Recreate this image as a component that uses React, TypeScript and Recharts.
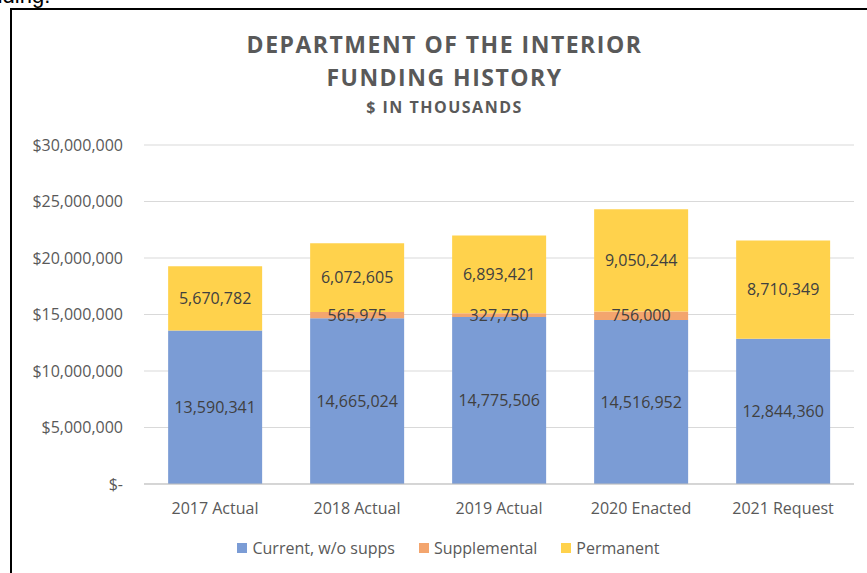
import React from 'react';
import { BarChart, Bar, XAxis, YAxis, CartesianGrid, Legend, LabelList } from 'recharts';

const categories = ['2017 Actual', '2018 Actual', '2019 Actual', '2020 Enacted', '2021 Request'];
const current = [13590341, 14665024, 14775506, 14516952, 12844360];
const supplemental = [0, 565975, 327750, 756000, 0];
const permanent = [5670782, 6072605, 6893421, 9050244, 8710349];
const yTicks = [0, 5000000, 10000000, 15000000, 20000000, 25000000, 30000000];
const legendOrder = ['Current, w/o supps', 'Supplemental', 'Permanent'];

const seriesColors = {
  current: '#7B9CD5',
  supplemental: '#F3A56E',
  permanent: '#FFD24C',
};

const data = categories.map((name, i) => ({
  name,
  current: current[i],
  supplemental: supplemental[i],
  permanent: permanent[i],
}));

const font = '"Open Sans", sans-serif';

const fmtLabel = (v: any) => (v ? Number(v).toLocaleString('en-US') : '');
const fmtTick = (v: number) => (v === 0 ? '$-' : '$' + v.toLocaleString('en-US'));

// legend drawn as plain html so spacing can match the excel look
const LegendContent = (props: any) => {
  const items = [...(props.payload || [])].sort(
    (a: any, b: any) => legendOrder.indexOf(a.value) - legendOrder.indexOf(b.value)
  );
  return (
    <div style={{ display: 'flex', justifyContent: 'center', fontFamily: font, fontSize: 16, color: '#595959' }}>
      {items.map((it: any) => (
        <div key={it.value} style={{ display: 'flex', alignItems: 'center', margin: '0 12px' }}>
          <span style={{ width: 10, height: 10, background: it.color, marginRight: 5, display: 'inline-block' }} />
          <span>{it.value}</span>
        </div>
      ))}
    </div>
  );
};

export default function App() {
  const labelStyle = { fontFamily: font, fontSize: 16, fill: '#404040' };
  return (
    <div style={{ position: 'fixed', left: 0, top: 0, width: 867, height: 573, overflow: 'hidden', background: '#fff' }}>
      {/* bit of page text cut off above the figure */}
      <div style={{ position: 'absolute', left: -28, top: -17, fontFamily: 'Arial, sans-serif', fontSize: 22, color: '#000' }}>
        funding.
      </div>
      <div style={{ position: 'absolute', left: 10, top: 8, width: 900, height: 600, border: '2px solid #000' }} />

      <div style={{ position: 'absolute', left: 0, top: 28, width: 889, textAlign: 'center', fontFamily: font, fontWeight: 700, color: '#595959' }}>
        <div style={{ fontSize: 23, lineHeight: '33px', letterSpacing: 1.5 }}>DEPARTMENT OF THE INTERIOR</div>
        <div style={{ fontSize: 23, lineHeight: '33px', letterSpacing: 1.5 }}>FUNDING HISTORY</div>
        <div style={{ fontSize: 16, lineHeight: '26px', letterSpacing: 1.5 }}>$ IN THOUSANDS</div>
      </div>

      <div style={{ position: 'absolute', left: 0, top: 0 }}>
        <BarChart
          width={867}
          height={573}
          data={data}
          margin={{ top: 145, right: 13, left: 0, bottom: 59 }}
          barCategoryGap="17%"
        >
          <CartesianGrid vertical={false} stroke="#D9D9D9" strokeWidth={1} />
          <XAxis
            dataKey="name"
            height={30}
            tickLine={false}
            axisLine={{ stroke: '#BFBFBF' }}
            tickMargin={13}
            tick={{ fontFamily: font, fontSize: 16, fill: '#595959' }}
          />
          <YAxis
            width={144}
            domain={[0, 30000000]}
            ticks={yTicks}
            tickFormatter={fmtTick}
            axisLine={false}
            tickLine={false}
            tickMargin={15}
            tick={{ fontFamily: font, fontSize: 16, fill: '#595959' }}
          />
          <Legend
            layout="horizontal"
            verticalAlign="middle"
            align="center"
            wrapperStyle={{ top: 537, left: 0, width: 897 }}
            content={LegendContent}
          />
          <Bar dataKey="current" name="Current, w/o supps" stackId="a" fill={seriesColors.current} isAnimationActive={false}>
            <LabelList dataKey="current" position="center" formatter={fmtLabel} style={labelStyle} />
          </Bar>
          <Bar dataKey="supplemental" name="Supplemental" stackId="a" fill={seriesColors.supplemental} isAnimationActive={false}>
            <LabelList dataKey="supplemental" position="center" formatter={fmtLabel} style={labelStyle} />
          </Bar>
          <Bar dataKey="permanent" name="Permanent" stackId="a" fill={seriesColors.permanent} isAnimationActive={false}>
            <LabelList dataKey="permanent" position="center" formatter={fmtLabel} style={labelStyle} />
          </Bar>
        </BarChart>
      </div>
    </div>
  );
}
